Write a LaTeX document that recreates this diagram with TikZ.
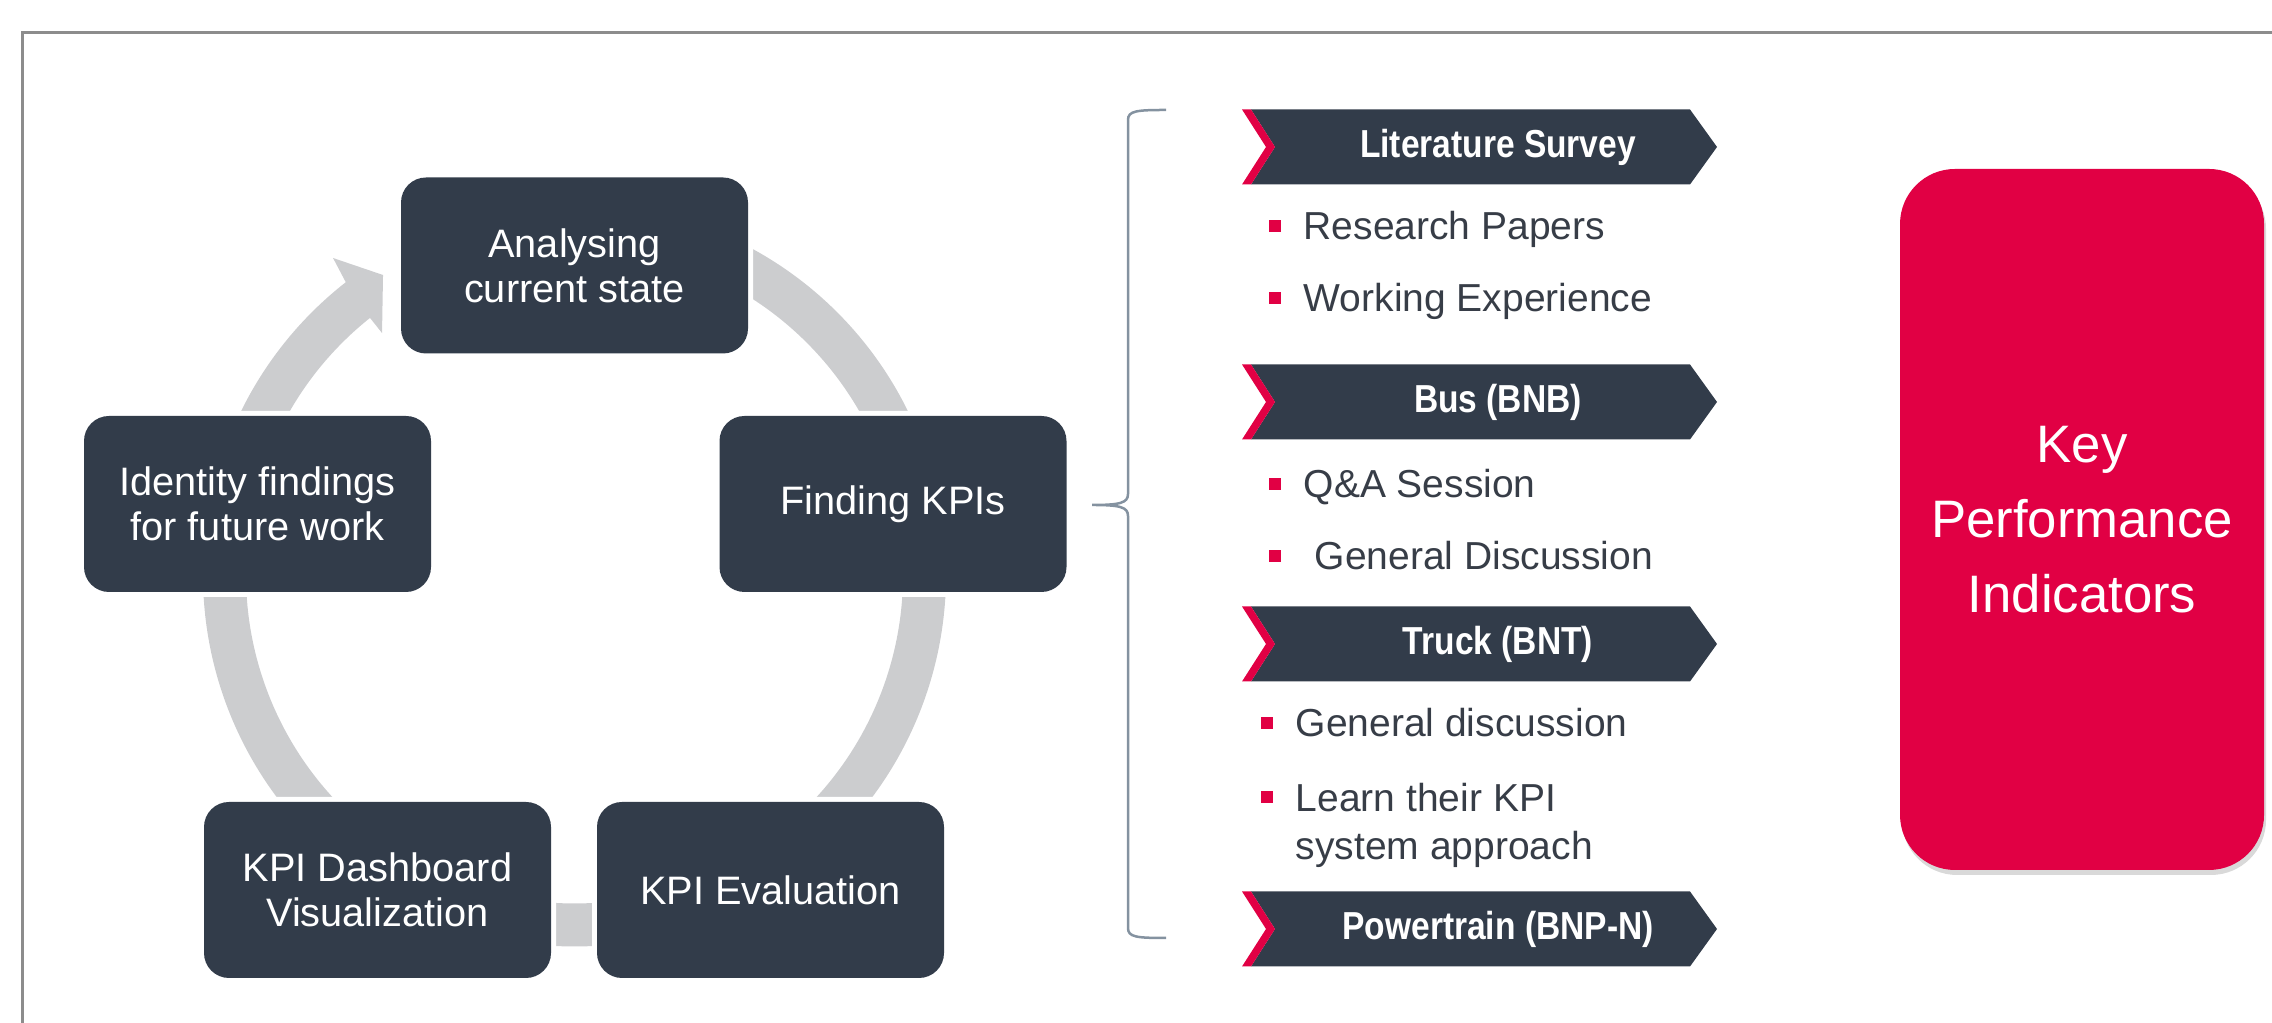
\documentclass[tikz,border=0pt]{standalone}
\usepackage{fontspec}
\setmainfont{Liberation Sans}
\newfontfamily\chevfont[FakeStretch=0.86]{Liberation Sans}
\usetikzlibrary{shadows}

\definecolor{stagebg}{RGB}{50,60,74}
\definecolor{ringgray}{RGB}{204,205,207}
\definecolor{kpired}{RGB}{225,0,68}
\definecolor{itemgray}{RGB}{55,61,71}
\definecolor{bracegray}{RGB}{132,146,160}
\definecolor{framegray}{RGB}{140,140,140}

\begin{document}
\begin{tikzpicture}[
    stage/.style={rectangle,rounded corners=0.25cm,fill=stagebg,text=white,
        minimum width=3.47cm,minimum height=1.76cm,align=center,
        font=\fontsize{11.3}{12.8}\selectfont,
        preaction={draw=white,line width=0.1cm}},
    ring/.style={draw=ringgray,line width=0.43cm},
    chevtext/.style={text=white,font=\chevfont\bfseries\fontsize{11.1}{13}\selectfont},
    bul/.style={rectangle,fill=kpired,minimum size=0.12cm,inner sep=0pt},
    item/.style={anchor=base west,inner sep=0pt,text=itemgray,align=left,
        font=\fontsize{11.1}{13.9}\selectfont},
    kpibox/.style={rectangle,rounded corners=0.55cm,fill=kpired,text=white,
        minimum width=3.64cm,minimum height=7.01cm,align=center,
        font=\fontsize{15}{21.3}\selectfont,
        drop shadow={shadow xshift=0.02cm,shadow yshift=-0.05cm,opacity=0.3}}
    ]
    \useasboundingbox (0,0) rectangle (22.72,10.23);
    \draw[framegray,line width=0.03cm] (0.23,0) -- (0.23,9.90) -- (22.72,9.90);

    % cycle
    \coordinate (ctr) at (5.745,4.48);
    \draw[ring] ([shift={(65:3.5)}]ctr) arc[start angle=65,end angle=20,radius=3.5];
    \draw[ring] ([shift={(5:3.5)}]ctr) arc[start angle=5,end angle=-50,radius=3.5];
    \draw[ring] ([shift={(-60:3.5)}]ctr) arc[start angle=-60,end angle=-120,radius=3.5];
    \draw[ring] ([shift={(230:3.5)}]ctr) arc[start angle=230,end angle=175,radius=3.5];
    \fill[ringgray] ([shift={(175:3.715)}]ctr) arc[start angle=175,end angle=128,radius=3.715]
        -- ([shift={(127.3:3.985)}]ctr) -- ([shift={(122.55:3.559)}]ctr)
        -- ([shift={(128.5:3.092)}]ctr) -- ([shift={(128.5:3.285)}]ctr)
        arc[start angle=128.5,end angle=175,radius=3.285] -- cycle;

    \node[stage] (analyse) at (5.745,7.575) {Analysing\\current state};
    \node[stage] (find) at (8.93,5.19) {Finding KPIs};
    \node[stage] (eval) at (7.705,1.33) {KPI Evaluation};
    \node[stage] (dash) at (3.775,1.33) {KPI Dashboard\\Visualization};
    \node[stage] (ident) at (2.575,5.19) {Identity findings\\for future work};

    % brace
    \draw[bracegray,line width=0.025cm] (11.66,9.13) .. controls (11.36,9.13) and (11.28,9.12) .. (11.28,9.03)
        -- (11.28,5.29) .. controls (11.28,5.20) and (11.20,5.18) .. (10.92,5.18)
        .. controls (11.20,5.18) and (11.28,5.16) .. (11.28,5.07)
        -- (11.28,0.95) .. controls (11.28,0.86) and (11.36,0.85) .. (11.66,0.85);

    % chevrons
    \foreach \y/\name/\txt in {8.76/lit/Literature Survey,6.21/bus/Bus (BNB),
                              3.79/truck/Truck (BNT),0.94/power/Powertrain (BNP-N)}{
        \fill[stagebg] (12.51,\y+0.375) -- (16.90,\y+0.375) -- (17.17,\y)
            -- (16.90,\y-0.375) -- (12.51,\y-0.375) -- (12.75,\y) -- cycle;
        \fill[kpired] (12.42,\y+0.375) -- (12.51,\y+0.375) -- (12.75,\y)
            -- (12.51,\y-0.375) -- (12.42,\y-0.375) -- (12.66,\y) -- cycle;
        \node[chevtext] (\name) at (14.98,\y) {\txt};
    }

    % items
    \node[bul] (b1) at (12.75,7.97) {};
    \node[item] (papers) at ([xshift=0.28cm,yshift=-0.14cm]b1.center) {Research Papers};
    \node[bul] (b2) at (12.75,7.25) {};
    \node[item] (work) at ([xshift=0.28cm,yshift=-0.14cm]b2.center) {Working Experience};
    \node[bul] (b3) at (12.75,5.39) {};
    \node[item] (qa) at ([xshift=0.28cm,yshift=-0.14cm]b3.center) {Q\&A Session};
    \node[bul] (b4) at (12.75,4.67) {};
    \node[item] (gendisc) at ([xshift=0.39cm,yshift=-0.14cm]b4.center) {General Discussion};
    \node[bul] (b5) at (12.67,3.00) {};
    \node[item] (gentruck) at ([xshift=0.28cm,yshift=-0.14cm]b5.center) {General discussion};
    \node[bul] (b6) at (12.67,2.26) {};
    \node[item] (learn) at ([xshift=0.28cm,yshift=-0.63cm]b6.center) {Learn their KPI\\system approach};

    \node[kpibox] (kpi) at (20.82,5.035) {Key\\Performance\\Indicators};
\end{tikzpicture}
\end{document}
